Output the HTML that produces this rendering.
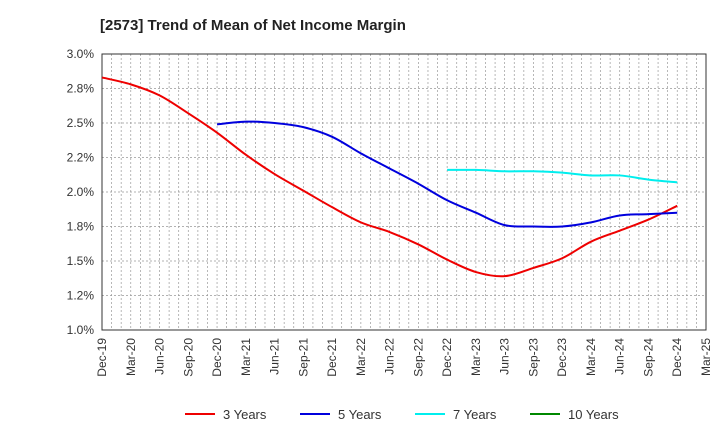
<!DOCTYPE html>
<html><head><meta charset="utf-8"><style>
body{margin:0;background:#fff;font-family:"Liberation Sans",sans-serif;}
</style></head><body>
<svg id="chart" width="720" height="440" xmlns="http://www.w3.org/2000/svg">
<text x="100" y="30" font-size="15" font-weight="bold" fill="#222">[2573]  Trend of Mean of Net Income Margin</text>
<g id="grid"></g><g id="axes"></g><g id="series"></g><g id="legend"></g>
</svg>
<script>
const xLabels=["Dec-19","Mar-20","Jun-20","Sep-20","Dec-20","Mar-21","Jun-21","Sep-21","Dec-21","Mar-22","Jun-22","Sep-22","Dec-22","Mar-23","Jun-23","Sep-23","Dec-23","Mar-24","Jun-24","Sep-24","Dec-24","Mar-25"];
const yTicks=[1.0,1.25,1.5,1.75,2.0,2.25,2.5,2.75,3.0];
const yTickLabels=["1.0%","1.2%","1.5%","1.8%","2.0%","2.2%","2.5%","2.8%","3.0%"];
const red=[2.83,2.78,2.70,2.57,2.43,2.27,2.13,2.01,1.89,1.78,1.71,1.62,1.51,1.42,1.39,1.45,1.52,1.64,1.72,1.80,1.90];
const blue=[null,null,null,null,2.49,2.51,2.50,2.47,2.40,2.28,2.17,2.06,1.94,1.85,1.76,1.75,1.75,1.78,1.83,1.84,1.85];
const cyan=[null,null,null,null,null,null,null,null,null,null,null,null,2.16,2.16,2.15,2.15,2.14,2.12,2.12,2.09,2.07];
const green=[];
const L=102,R=706,T=54,B=330,NS="http://www.w3.org/2000/svg";
const xq=i=>L+i*3*(R-L)/63, xm=m=>L+m*(R-L)/63;
const y=v=>B-(v-1)/2*(B-T);
function mk(t,a,p){const e=document.createElementNS(NS,t);for(const k in a)e.setAttribute(k,a[k]);p.appendChild(e);return e;}
const g=document.getElementById('grid'),ax=document.getElementById('axes'),s=document.getElementById('series'),lg=document.getElementById('legend');
for(let m=1;m<63;m++){const l=mk('line',{x1:xm(m),x2:xm(m),y1:T,y2:B,stroke:'#999','stroke-dasharray':'2,2','stroke-width':0.7},g);

}
yTicks.forEach((v,i)=>{const l=mk('line',{x1:L,x2:R,y1:y(v),y2:y(v),stroke:'#999','stroke-dasharray':'2,2','stroke-width':0.7},g);


const t=mk('text',{x:L-8,y:y(v)+4,'text-anchor':'end','font-size':12,fill:'#333'},ax);t.textContent=yTickLabels[i];

});
const fr=mk('rect',{x:L,y:T,width:R-L,height:B-T,fill:'none',stroke:'#333','stroke-width':1},ax);


xLabels.forEach((lab,i)=>{const x=xq(i);const t=mk('text',{x:x+4,y:B+8,'text-anchor':'end','font-size':12,fill:'#333',transform:`rotate(-90 ${x+4} ${B+8})`},ax);t.textContent=lab;

});
function path(arr){const p=[];arr.forEach((v,i)=>{if(v!=null)p.push([xq(i),y(v)]);});if(p.length<2)return '';
let d=`M${p[0][0]},${p[0][1]}`;for(let i=0;i<p.length-1;i++){const p0=p[i-1]||p[i],p1=p[i],p2=p[i+1],p3=p[i+2]||p2;
d+=` C${p1[0]+(p2[0]-p0[0])/6},${p1[1]+(p2[1]-p0[1])/6} ${p2[0]-(p3[0]-p1[0])/6},${p2[1]-(p3[1]-p1[1])/6} ${p2[0]},${p2[1]}`;}return d;}
[[red,'#ee0000','3yr-line'],[blue,'#0000dd','5yr-line'],[cyan,'#00eeee','7yr-line'],[green,'#008800','10yr-line']].forEach(([a,c,n])=>{const d=path(a);if(!d)return;
const e=mk('path',{d,fill:'none',stroke:c,'stroke-width':2},s);

});
[['3 Years','#ee0000',185],['5 Years','#0000dd',300],['7 Years','#00eeee',415],['10 Years','#008800',530]].forEach(([t,c,x])=>{
const l=mk('line',{x1:x,x2:x+30,y1:414,y2:414,stroke:c,'stroke-width':2},lg);


const tx=mk('text',{x:x+38,y:419,'font-size':13,fill:'#333'},lg);tx.textContent=t;

});
</script>
</body></html>
